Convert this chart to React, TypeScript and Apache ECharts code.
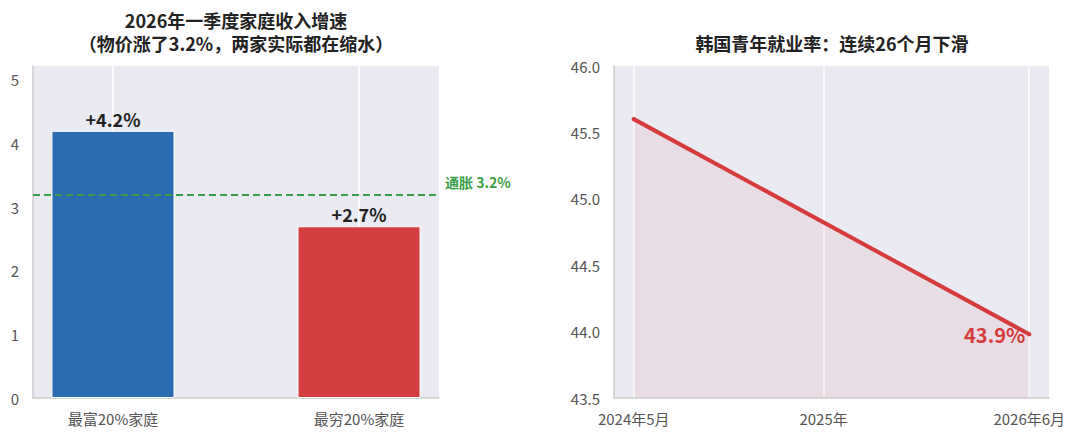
import React, { useEffect, useRef } from "react";
import * as echarts from "echarts";

const incomeCategories = ["最富20%家庭", "最穷20%家庭"];
const incomeGrowth = [4.2, 2.7];
const incomeColors = ["#2b6cb0", "#d33f3f"];
const inflationRate = 3.2;

const youthMonths = [0, 25]; // months since 2024年5月
const youthRate = [45.6, 43.98];
const youthEndLabel = "43.9%";
const youthTickMonths = [0, 12, 25];
const youthTickLabels = ["2024年5月", "2025年", "2026年6月"];

const FONT = "'Noto Sans CJK SC', 'Noto Sans', sans-serif";
const BG = "#eaeaf2";
const AXIS = "#cccccc";
const TICK = "#555555";
const GREEN = "#3a9e48";
const RED = "#d63b3b";

export default function App() {
  const ref = useRef<HTMLDivElement>(null);
  useEffect(() => {
    document.body.style.margin = "0";
    const chart = echarts.init(ref.current!, null, { renderer: "svg" });
    const axisLine = { show: true, onZero: false, lineStyle: { color: AXIS, width: 1.5 } };
    const titleStyle = { fontSize: 18, fontWeight: "bold", color: "#222", lineHeight: 21, fontFamily: FONT };
    const option: any = {
      animation: false,
      backgroundColor: "#ffffff",
      textStyle: { fontFamily: FONT },
      title: [
        { text: "2026年一季度家庭收入增速", left: 236, top: 9, textAlign: "center", padding: 0, textStyle: titleStyle },
        { text: "（物价涨了3.2%，两家实际都在缩水）", left: 236, top: 32.5, textAlign: "center", padding: 0, textStyle: titleStyle },
        { text: "韩国青年就业率：连续26个月下滑", left: 832, top: 32.5, textAlign: "center", padding: 0, textStyle: titleStyle },
      ],
      grid: [
        { left: 33, top: 66, width: 406, height: 332, show: true, backgroundColor: BG, borderWidth: 0 },
        { left: 614, top: 66, width: 435, height: 332, show: true, backgroundColor: BG, borderWidth: 0 },
      ],
      xAxis: [
        {
          type: "value",
          gridIndex: 0,
          min: -0.325,
          max: 1.325,
          axisLine,
          axisTick: { show: false, customValues: [0, 1] },
          axisLabel: {
            customValues: [0, 1],
            formatter: (v: number) => incomeCategories[Math.round(v)] ?? "",
            color: TICK,
            fontSize: 15,
            margin: 13,
          },
          splitLine: { show: true, lineStyle: { color: "#ffffff", width: 1.5 } },
        },
        {
          type: "value",
          gridIndex: 1,
          min: -1.25,
          max: 26.25,
          axisLine,
          axisTick: { show: false, customValues: youthTickMonths },
          axisLabel: {
            customValues: youthTickMonths,
            formatter: (v: number) => youthTickLabels[youthTickMonths.indexOf(Math.round(v))] ?? "",
            color: TICK,
            fontSize: 15,
            margin: 13,
          },
          splitLine: { show: true, lineStyle: { color: "#ffffff", width: 1.5 } },
        },
      ],
      yAxis: [
        {
          type: "value",
          gridIndex: 0,
          min: 0,
          max: 5.22,
          interval: 1,
          axisLine,
          axisTick: { show: false },
          axisLabel: { color: TICK, fontSize: 15, margin: 14, showMaxLabel: false },
          splitLine: { show: false },
        },
        {
          type: "value",
          gridIndex: 1,
          min: 43.5,
          max: 46.0,
          interval: 0.5,
          axisLine,
          axisTick: { show: false },
          axisLabel: { color: TICK, fontSize: 15, margin: 14, formatter: (v: number) => v.toFixed(1) },
          splitLine: { show: false },
        },
      ],
      series: [
        {
          type: "bar",
          xAxisIndex: 0,
          yAxisIndex: 0,
          barWidth: "50%",
          data: incomeGrowth.map((v, i) => ({
            value: [i, v],
            itemStyle: { color: incomeColors[i], borderColor: "#ffffff", borderWidth: 1 },
          })),
          label: {
            show: true,
            position: "top",
            distance: 3,
            fontSize: 18,
            fontWeight: "bold",
            color: "#222",
            fontFamily: FONT,
            formatter: (p: any) => "+" + p.value[1].toFixed(1) + "%",
          },
          markLine: {
            silent: true,
            symbol: "none",
            lineStyle: { color: GREEN, width: 2, type: [7, 4] },
            label: {
              show: true,
              position: "end",
              distance: 6,
              lineHeight: 24,
              formatter: "通胀 " + inflationRate + "%\n ",
              color: GREEN,
              fontWeight: "bold",
              fontSize: 14,
              fontFamily: FONT,
            },
            data: [{ yAxis: inflationRate }],
          },
        },
        {
          type: "line",
          xAxisIndex: 1,
          yAxisIndex: 1,
          symbol: "circle",
          symbolSize: 4,
          itemStyle: { color: RED },
          lineStyle: { color: RED, width: 4, cap: "round" },
          areaStyle: { color: "rgba(214,59,59,0.1)", origin: "start" },
          data: youthMonths.map((m, i) => ({
            value: [m, youthRate[i]],
            label:
              i === youthMonths.length - 1
                ? {
                    show: true,
                    position: "left",
                    distance: 2,
                    formatter: youthEndLabel,
                    color: RED,
                    fontSize: 20,
                    fontWeight: "bold",
                    fontFamily: FONT,
                  }
                : { show: false },
          })),
        },
      ],
    };
    chart.setOption(option);
    return () => chart.dispose();
  }, []);
  return <div ref={ref} style={{ position: "fixed", left: 0, top: 0, width: 1080, height: 442 }} />;
}
